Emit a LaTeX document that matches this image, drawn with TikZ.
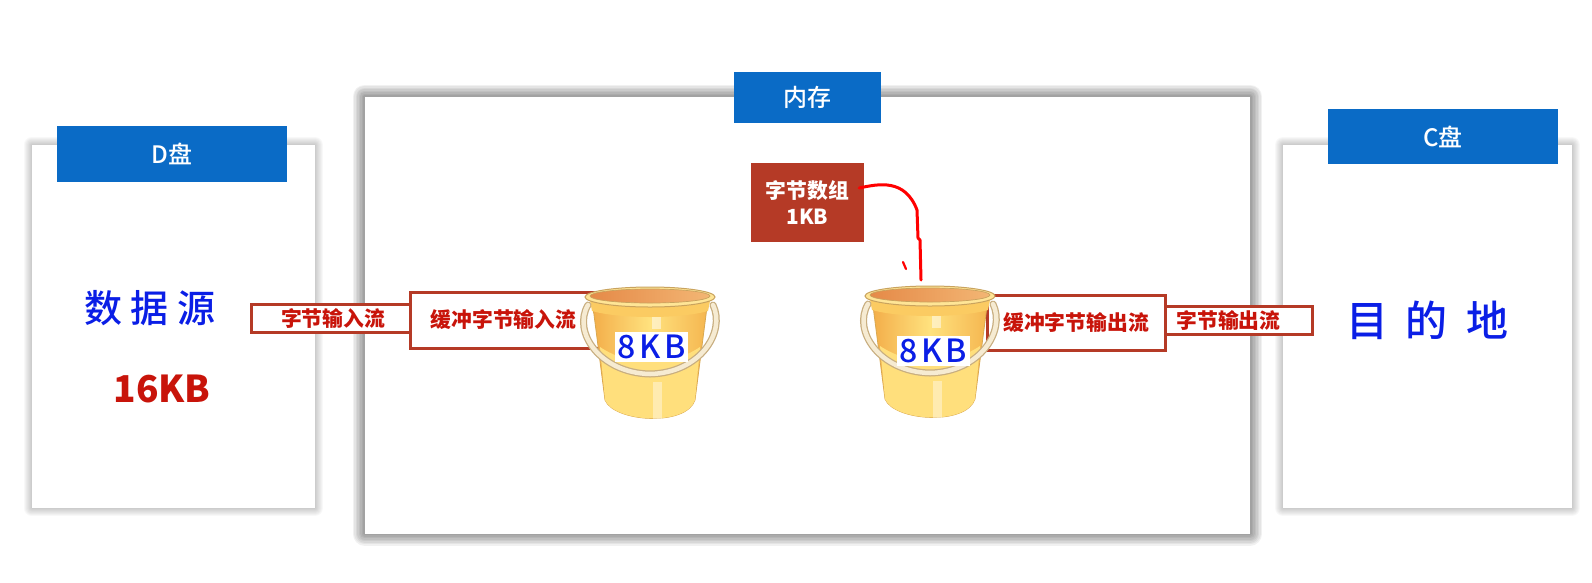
\documentclass[tikz,border=0pt]{standalone}
\usepackage{fontspec}
\setmainfont{Noto Sans CJK SC}
\newfontfamily\medfont{Noto Sans CJK SC Medium}
\usepackage{xcolor}
\definecolor{headblue}{HTML}{0A6BC6}
\definecolor{brick}{HTML}{B53A26}
\definecolor{labelred}{HTML}{C8140A}
\definecolor{handblue}{HTML}{0A1EE6}
\definecolor{pailedge}{HTML}{D9A850}
\definecolor{pailside}{HTML}{F3AE4A}
\definecolor{pailsideb}{HTML}{F5B650}
\definecolor{pailmid}{HTML}{FFE27E}
\definecolor{paillow}{HTML}{FFDF7C}
\definecolor{pailband}{HTML}{FBCB62}
\definecolor{rimedge}{HTML}{C9A35E}
\definecolor{rimfill}{HTML}{FFE596}
\definecolor{pailinl}{HTML}{E58A48}
\definecolor{pailinr}{HTML}{F3B674}
\definecolor{gripedge}{HTML}{C8AE80}
\definecolor{gripfill}{HTML}{F6EBD2}
\tikzset{
  softshadow/.style 2 args={line join=round,
    preaction={draw=black,draw opacity=#1,line width=#2},
    preaction={draw=black,draw opacity=#1,line width=#2*0.875},
    preaction={draw=black,draw opacity=#1,line width=#2*0.75},
    preaction={draw=black,draw opacity=#1,line width=#2*0.625},
    preaction={draw=black,draw opacity=#1,line width=#2*0.5},
    preaction={draw=black,draw opacity=#1,line width=#2*0.375},
    preaction={draw=black,draw opacity=#1,line width=#2*0.25},
    preaction={draw=black,draw opacity=#1,line width=#2*0.125}},
  panel/.style={fill=white,inner sep=0pt,outer sep=0pt},
  header/.style={fill=headblue,text=white,inner sep=0pt,font=\fontsize{24}{28}\medfont},
  bar/.style={draw=brick,fill=white,line width=3pt,inner sep=0pt,text=labelred,font=\fontsize{20.8}{24}\bfseries\selectfont},
  hand/.style={text=handblue,inner sep=0pt,font=\fontsize{38}{44}\medfont},
  pailtag/.style={fill=white,inner sep=0pt,minimum width=73pt,minimum height=30pt,text=handblue,font=\fontsize{32}{36}\medfont},
  pics/bucket/.style={code={
    % body
    \draw[draw=pailedge,line width=0.8pt,left color=pailside,right color=pailsideb,middle color=pailmid]
      (-57,10) -- (-45,103) .. controls (-36,125) and (36,130) .. (45,103) -- (57,10) -- cycle;
    \fill[paillow] (-50,50) -- (-45,103) .. controls (-36,125) and (36,130) .. (45,103) -- (50,50) .. controls (20,70) and (-20,70) .. (-50,50) -- cycle;
    \fill[white,opacity=.4] (3,85) rectangle (12,122);
    \fill[white,opacity=.5] (2,20) rectangle (11,32);
    % rim
    \fill[pailband] (-60,4) -- (-58,14) .. controls (-30,22) and (30,22) .. (58,14) -- (60,4) -- cycle;
    \draw[draw=rimedge,line width=1pt,fill=rimfill] (0,0) ellipse (65 and 10);
    \draw[draw=rimedge,line width=0.7pt,left color=pailinl,right color=pailinr] (0,-1) ellipse (60 and 7);
    % handle
    \draw[gripedge,line width=7pt,line cap=round] (-62,8) .. controls (-78,35) and (-50,76) .. (0,77) .. controls (50,76) and (76,35) .. (63,8);
    \draw[gripfill,line width=4.5pt,line cap=round] (-62,8) .. controls (-78,35) and (-50,76) .. (0,77) .. controls (50,76) and (76,35) .. (63,8);
  }}
}

\begin{document}
\begin{tikzpicture}[x=1pt,y=-1pt] %buffered byte streams
\useasboundingbox (0,0) rectangle (1592,582);
% panels
\node[panel,softshadow={0.028}{16pt},minimum width=283.5pt,minimum height=363pt] (dpanel) at (173.25,326.5) {};
\node[panel,softshadow={0.055}{24pt},minimum width=885.5pt,minimum height=437pt] (mempanel) at (807.25,315) {};
\node[panel,softshadow={0.028}{16pt},minimum width=289pt,minimum height=363pt] (cpanel) at (1427.5,326.5) {};
% headers
\node[header,minimum width=230pt,minimum height=56pt] (dhead) at (172,154) {D盘};
\node[header,minimum width=147pt,minimum height=51pt] (memhead) at (807,97.5) {内存};
\node[header,minimum width=230pt,minimum height=55pt] (chead) at (1443,136.5) {C盘};
% left and right panel text
\node[hand] (source) at (150,308) {数\hspace{9pt}据\hspace{9pt}源};
\node[inner sep=0pt,text=labelred,font=\fontsize{37}{44}\bfseries\selectfont] (size) at (162,389) {16KB};
\node[hand,font=\fontsize{42}{48}\medfont] (target) at (1427,320) {目\hspace{18pt}的\hspace{18pt}地};
% stream bars
\node[bar,minimum width=159pt,minimum height=28pt] (bytein) at (330.5,318) {\hspace{5pt}字节输入流};
\node[bar,minimum width=190pt,minimum height=56pt] (bufin) at (505,320) {\hspace{-3pt}缓冲字节输入流};
\node[bar,minimum width=178pt,minimum height=55pt] (bufout) at (1076,322.5) {缓冲字节输出流};
\node[bar,minimum width=147pt,minimum height=28pt] (byteout) at (1238.5,320) {\hspace{-20pt}字节输出流};
% buckets
\pic (lbucket) at (650,297) {bucket};
\pic (rbucket) at (930,296) {bucket};
\node[pailtag] (lsize) at (651.5,347) {8\hspace{4pt}K\hspace{3pt}B};
\node[pailtag] (rsize) at (933,351) {8\hspace{4pt}K\hspace{3pt}B};
% byte array
\node[fill=brick,text=white,inner sep=0pt,align=center,minimum width=113pt,minimum height=79pt,font=\fontsize{20.8}{26}\bfseries\selectfont] (array) at (807.5,202.5) {字节数组\\1KB};
\coordinate (drop) at (921,280);
\draw[red,line width=3pt,line cap=round,line join=round] ([shift={(-5,-14.5)}]array.east) .. controls (878,184) and (905,178) .. (917,210) -- (918,238) -- (920,240) -- (drop);
\coordinate (ticka) at (903,262);
\coordinate (tickb) at (906,269);
\draw[red,line width=2.2pt,line cap=round] (ticka) -- (tickb);
\end{tikzpicture}
\end{document}
